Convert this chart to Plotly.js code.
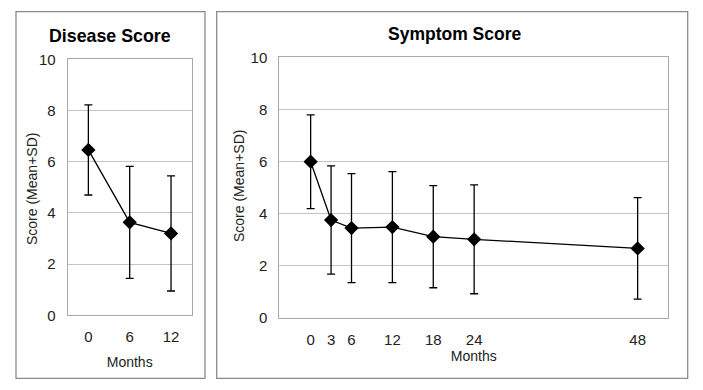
<!DOCTYPE html>
<html>
<head>
<meta charset="utf-8">
<script src="https://cdn.plot.ly/plotly-3.0.1.min.js"></script>
<style>html,body{margin:0;padding:0;background:#fff;}#chart{width:703px;height:390px;}</style>
</head>
<body>
<div id="chart"></div>
<script>
// Disease Score panel
const diseaseMonths = ['0', '6', '12'];
const diseaseMean = [6.46, 3.63, 3.20];
const diseaseSD = [1.76, 2.19, 2.25];

// Symptom Score panel
const symptomMonths = [0, 3, 6, 12, 18, 24, 48];
const symptomMean = [5.99, 3.75, 3.44, 3.48, 3.11, 3.01, 2.66];
const symptomSD = [1.80, 2.08, 2.09, 2.13, 1.96, 2.09, 1.95];

const yTicks = [0, 2, 4, 6, 8, 10];
const yTitle = 'Score (Mean+SD)';
const xTitle = 'Months';

const W = 703, H = 390;
const px = x => x / W;
const py = y => 1 - y / H;

const font = "'Liberation Sans', Arial, sans-serif";
const black = '#000000';
const textCol = '#222';

function trace(x, y, sd, xa, ya) {
  return {
    x: x, y: y, xaxis: xa, yaxis: ya,
    type: 'scatter', mode: 'lines+markers',
    line: {color: black, width: 1.3},
    marker: {symbol: 'diamond', size: 11, color: black},
    error_y: {type: 'data', array: sd, visible: true, color: black, thickness: 1.3, width: 4},
    showlegend: false, hoverinfo: 'x+y'
  };
}

const yAxisCommon = {
  range: [0, 10], tickvals: yTicks, showgrid: true, gridcolor: '#c4c4c4', gridwidth: 1,
  showline: true, linecolor: '#a8a8a8', linewidth: 1, mirror: true, zeroline: false,
  ticks: '', ticklabelstandoff: 8, tickfont: {family: font, size: 15, color: textCol}, fixedrange: true
};

const xAxisCommon = {
  showgrid: false, showline: true, linecolor: '#a8a8a8', linewidth: 1, mirror: true, zeroline: false,
  ticks: '', ticklabelstandoff: 8, tickfont: {family: font, size: 15, color: textCol}, fixedrange: true,
  title: {text: xTitle, font: {family: font, size: 14, color: textCol}}
};

const layout = {
  width: W, height: H,
  margin: {l: 0, r: 0, t: 0, b: 0},
  paper_bgcolor: '#fff', plot_bgcolor: '#fff',
  xaxis: Object.assign({}, xAxisCommon, {
    domain: [px(67.7), px(191.7)], anchor: 'y', type: 'category', range: [-0.5, 2.5],
    title: Object.assign({}, xAxisCommon.title, {standoff: 12})
  }),
  yaxis: Object.assign({}, yAxisCommon, {
    domain: [py(315.3), py(59.3)], anchor: 'x'
  }),
  xaxis2: Object.assign({}, xAxisCommon, {
    domain: [px(279.3), px(668.3)], anchor: 'y2', type: 'linear', range: [-4.6, 52.5],
    tickvals: symptomMonths, ticktext: symptomMonths.map(String),
    title: Object.assign({}, xAxisCommon.title, {standoff: 3})
  }),
  yaxis2: Object.assign({}, yAxisCommon, {
    domain: [py(317.7), py(57.3)], anchor: 'x2'
  }),
  shapes: [
    {type: 'rect', xref: 'paper', yref: 'paper', x0: px(16), x1: px(205), y0: py(378.3), y1: py(11.7),
     line: {color: '#8a8a8a', width: 1.3}},
    {type: 'rect', xref: 'paper', yref: 'paper', x0: px(216.7), x1: px(687.7), y0: py(378.3), y1: py(11.7),
     line: {color: '#8a8a8a', width: 1.3}}
  ],
  annotations: [
    {text: '<b>Disease Score</b>', xref: 'paper', yref: 'paper', x: px(110), y: py(35.7),
     xanchor: 'center', yanchor: 'middle', showarrow: false, font: {family: font, size: 17.8, color: black}},
    {text: '<b>Symptom Score</b>', xref: 'paper', yref: 'paper', x: px(454.5), y: py(33.7),
     xanchor: 'center', yanchor: 'middle', showarrow: false, font: {family: font, size: 17.5, color: black}},
    {text: yTitle, xref: 'paper', yref: 'paper', x: px(32), y: py(189), textangle: -90,
     xanchor: 'center', yanchor: 'middle', showarrow: false, font: {family: font, size: 14, color: textCol}},
    {text: yTitle, xref: 'paper', yref: 'paper', x: px(239), y: py(186), textangle: -90,
     xanchor: 'center', yanchor: 'middle', showarrow: false, font: {family: font, size: 14, color: textCol}}
  ]
};

Plotly.newPlot('chart', [
  trace(diseaseMonths, diseaseMean, diseaseSD, 'x', 'y'),
  trace(symptomMonths, symptomMean, symptomSD, 'x2', 'y2')
], layout, {displayModeBar: false, staticPlot: true});
</script>
</body>
</html>
